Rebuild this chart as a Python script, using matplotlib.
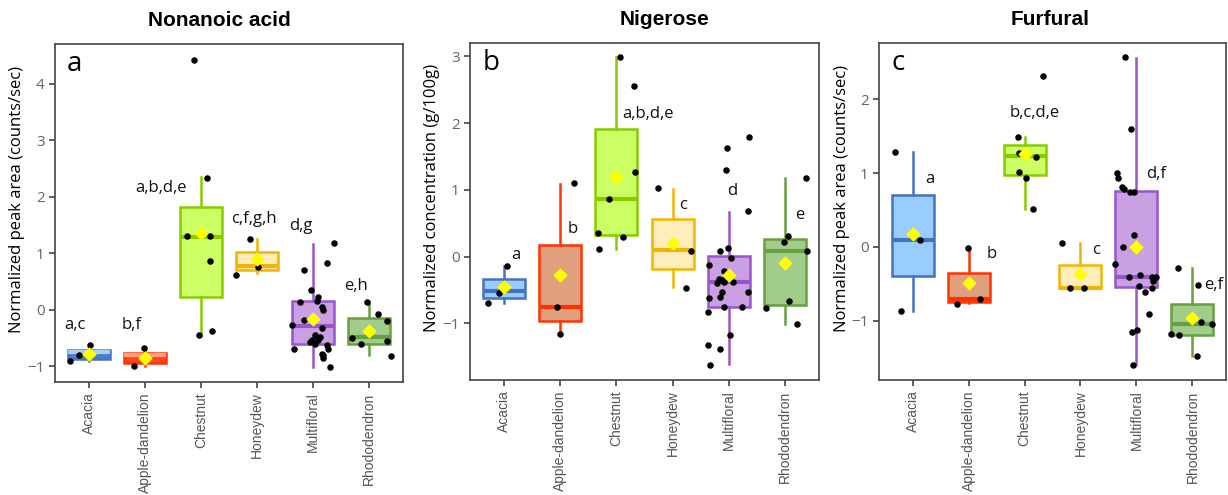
import matplotlib
matplotlib.use("Agg")
import matplotlib.pyplot as plt

honeys = ["Acacia", "Apple-dandelion", "Chestnut", "Honeydew", "Multifloral", "Rhododendron"]

# Nonanoic acid (panel a)
nona_q1 = [-0.88, -0.935, 0.23, 0.70, -0.61, -0.60]
nona_med = [-0.75, -0.81, 1.29, 0.775, -0.29, -0.49]
nona_q3 = [-0.705, -0.76, 1.82, 1.02, 0.15, -0.14]
nona_lo = [-0.91, -0.99, -0.45, 0.64, -1.02, -0.81]
nona_hi = [-0.64, -0.67, 2.34, 1.25, 1.17, 0.14]
nona_mean = [-0.78, -0.85, 1.35, 0.89, -0.17, -0.38]
nona_y = [
    [-0.91, -0.81, -0.62],
    [-0.99, -0.67],
    [4.42, 2.33, 1.30, 1.30, 0.86, -0.45, -0.38],
    [1.25, 0.62, 0.76],
    [1.18, 0.71, 0.83, 0.34, 0.23, 0.14, 0.16, 0.05, 0.00, -0.27, -0.19, -0.33, -0.45,
     -0.48, -0.54, -0.60, -0.54, -0.57, -0.63, -0.69, -0.78, -0.86, -0.81, -0.70, -1.01],
    [0.14, -0.08, -0.20, -0.51, -0.61, -0.56, -0.82],
]
nona_jit = [
    [-0.34, -0.17, 0.03],
    [-0.20, -0.02],
    [-0.12, 0.10, -0.25, 0.16, 0.17, -0.03, 0.19],
    [-0.13, -0.37, 0.02],
    [0.37, -0.16, 0.24, -0.04, 0.09, -0.24, 0.06, 0.15, 0.18, -0.37, -0.17, 0.15, 0.03,
     0.12, -0.03, 0.03, 0.09, -0.06, 0.24, 0.27, 0.15, 0.17, 0.18, -0.34, 0.30],
    [-0.04, 0.16, 0.31, -0.31, -0.15, 0.31, 0.38],
]
nona_letters = ["a,c", "b,f", "a,b,d,e", "c,f,g,h", "d,g", "e,h"]
nona_let_x = [0.76, 1.77, 2.29, 3.94, 4.78, 5.76]
nona_let_y = [-0.27, -0.27, 2.16, 1.61, 1.48, 0.41]

# Nigerose (panel b)
nige_q1 = [-0.62, -0.96, 0.32, -0.19, -0.76, -0.73]
nige_med = [-0.51, -0.75, 0.86, 0.10, -0.38, 0.09]
nige_q3 = [-0.33, 0.18, 1.91, 0.56, 0.01, 0.26]
nige_lo = [-0.70, -1.15, 0.11, -0.46, -1.61, -1.01]
nige_hi = [-0.14, 1.09, 2.99, 1.01, 0.67, 1.17]
nige_mean = [-0.45, -0.27, 1.19, 0.21, -0.27, -0.09]
nige_y = [
    [-0.14, -0.54, -0.70],
    [1.10, -0.75, -1.16],
    [2.99, 2.56, 1.26, 0.86, 0.35, 0.29, 0.11],
    [1.02, 0.09, -0.47],
    [1.79, 1.62, 1.29, 0.68, 0.09, 0.13, -0.02, -0.13, -0.21, -0.33, -0.35, -0.38, -0.38,
     -0.39, -0.53, -0.60, -0.53, -0.62, -0.75, -0.75, -0.83, -1.17, -1.32, -1.38, -1.62],
    [1.17, 0.31, 0.22, 0.09, -0.77, -0.66, -1.01],
]
nige_jit = [
    [0.05, -0.08, -0.28],
    [0.24, -0.05, 0.00],
    [0.07, 0.31, 0.34, -0.13, -0.32, 0.12, -0.30],
    [-0.26, 0.32, 0.23],
    [0.36, -0.03, -0.05, 0.34, -0.16, -0.01, 0.03, -0.35, -0.08, -0.17, -0.13, -0.09, 0.08,
     -0.21, -0.13, -0.15, 0.33, -0.35, -0.08, 0.24, -0.38, 0.02, -0.37, -0.16, -0.34],
    [0.37, 0.05, -0.02, 0.38, -0.35, 0.06, 0.21],
]
nige_letters = ["a", "b", "a,b,d,e", "c", "d", "e"]
nige_let_x = [1.21, 2.22, 3.56, 4.19, 5.05, 6.26]
nige_let_y = [0.03, 0.41, 2.14, 0.77, 0.98, 0.63]

# Furfural (panel c)
furf_q1 = [-0.39, -0.74, 0.97, -0.56, -0.54, -1.19]
furf_med = [0.09, -0.71, 1.23, -0.55, -0.40, -1.04]
furf_q3 = [0.70, -0.35, 1.38, -0.25, 0.76, -0.77]
furf_lo = [-0.86, -0.76, 0.52, -0.56, -1.59, -1.48]
furf_hi = [1.29, -0.01, 1.49, 0.05, 2.56, -0.29]
furf_mean = [0.17, -0.49, 1.26, -0.36, 0.00, -0.96]
furf_y = [
    [1.29, -0.86, 0.09],
    [-0.01, -0.77, -0.70],
    [2.32, 1.49, 1.27, 1.22, 1.02, 0.93, 0.51],
    [0.05, -0.55, -0.55],
    [2.57, 1.60, 1.00, 0.94, 0.81, 0.78, 0.74, 0.75, 0.16, 0.00, -0.23, -0.40, -0.38,
     -0.53, -0.41, -0.41, -0.46, -0.56, -0.61, -0.91, -1.15, -1.13, -1.60],
    [-0.29, -0.51, -1.02, -1.04, -1.18, -1.19, -1.48],
]
furf_jit = [
    [-0.32, -0.21, 0.14],
    [-0.01, -0.20, 0.20],
    [0.33, -0.11, -0.10, 0.20, -0.09, 0.03, 0.15],
    [-0.33, -0.18, 0.07],
    [-0.20, -0.09, -0.34, -0.33, -0.25, -0.23, -0.11, -0.04, -0.05, -0.24, -0.39, -0.14, 0.07,
     0.04, 0.27, 0.35, 0.30, 0.27, 0.15, 0.22, -0.08, 0.01, -0.07],
    [-0.25, 0.10, 0.15, 0.35, -0.38, -0.24, 0.08],
]
furf_letters = ["a", "b", "b,c,d,e", "c", "d,f", "e,f"]
furf_let_x = [1.31, 2.42, 3.18, 4.27, 5.35, 6.38]
furf_let_y = [0.92, -0.10, 1.81, -0.04, 0.99, -0.52]

edge_cols = ["#4472C4", "#FF3300", "#88CC00", "#F2B400", "#9955CC", "#66A040"]
fill_cols = ["#99CCFF", "#E0A07E", "#CCFF66", "#FFEEBB", "#C9A0E2", "#A2CC8A"]

W, H = 1228, 495
fig = plt.figure(figsize=(W / 100, H / 100), dpi=100)


def panel(rect, letter, title, title_x, ylabel, ylim, yticks, q1, med, q3, lo, hi, mean,
          ys, jit, letters, lx, ly, fills, med_cols):
    l, r, t, b = rect
    ax = fig.add_axes([l / W, 1 - b / H, (r - l) / W, (b - t) / H])
    stats = []
    for i in range(len(honeys)):
        stats.append(dict(med=med[i], q1=q1[i], q3=q3[i], whislo=lo[i], whishi=hi[i],
                          mean=mean[i], fliers=[]))
    pos = list(range(1, len(honeys) + 1))
    bp = ax.bxp(stats, positions=pos, widths=0.75, patch_artist=True, showcaps=False,
                showfliers=False, showmeans=False)
    for i in range(len(honeys)):
        bp["boxes"][i].set(facecolor=fills[i], edgecolor=edge_cols[i], linewidth=1.8)
        bp["medians"][i].set(color=med_cols[i], linewidth=3)
        for w in bp["whiskers"][2 * i:2 * i + 2]:
            w.set(color=edge_cols[i], linewidth=1.8)
        ax.scatter([pos[i] + d for d in jit[i]], ys[i], s=22, color="black", zorder=4,
                   linewidths=0)
        ax.scatter([pos[i]], [mean[i]], marker="D", s=55, color="#FFFF00", zorder=5,
                   linewidths=0)
        ax.text(lx[i], ly[i], letters[i], ha="center", va="center", fontsize=12,
                family="Open Sans", color="#111111")
    ax.set_xlim(0.4, 6.6)
    ax.set_ylim(*ylim)
    ax.set_yticks(yticks)
    ax.set_xticks(pos)
    ax.set_xticklabels(honeys, rotation=90, family="Liberation Sans", fontsize=10,
                       color="#555555")
    for lab in ax.get_yticklabels():
        lab.set(family="Open Sans", fontsize=11, color="#666666")
    ax.tick_params(direction="out", length=4, color="#444444", width=1.2)
    for s in ax.spines.values():
        s.set_color("#444444")
        s.set_linewidth(1.2)
    ax.set_ylabel(ylabel, family="Open Sans", fontsize=12)
    ax.yaxis.set_label_coords(-0.085, 0.54)
    ax.set_title(title, family="Liberation Sans", fontweight="bold", fontsize=15, pad=13,
                 x=title_x)
    ax.text(0.035, 0.94, letter, transform=ax.transAxes, fontsize=20, family="Open Sans",
            ha="left", va="center")
    return ax


med_a = list(edge_cols)
fills_a = list(fill_cols)
fills_a[0] = "#4A7FD0"
med_a[0] = "#A8D0F5"
fills_a[1] = "#FF4422"
med_a[1] = "#FFA080"

panel((55, 403, 44, 382), "a", "Nonanoic acid", 0.471, "Normalized peak area (counts/sec)",
      (-1.28, 4.70), [-1, 0, 1, 2, 3, 4], nona_q1, nona_med, nona_q3, nona_lo, nona_hi,
      nona_mean, nona_y, nona_jit, nona_letters, nona_let_x, nona_let_y, fills_a, med_a)

panel((470, 819, 43, 380), "b", "Nigerose", 0.556, "Normalized concentration (g/100g)",
      (-1.85, 3.20), [-1, 0, 1, 2, 3], nige_q1, nige_med, nige_q3, nige_lo, nige_hi,
      nige_mean, nige_y, nige_jit, nige_letters, nige_let_x, nige_let_y, fill_cols, edge_cols)

panel((879, 1226, 43, 380), "c", "Furfural", 0.493, "Normalized peak area (counts/sec)",
      (-1.80, 2.76), [-1, 0, 1, 2], furf_q1, furf_med, furf_q3, furf_lo, furf_hi,
      furf_mean, furf_y, furf_jit, furf_letters, furf_let_x, furf_let_y, fill_cols, edge_cols)

fig.savefig("out.png", dpi=100)
